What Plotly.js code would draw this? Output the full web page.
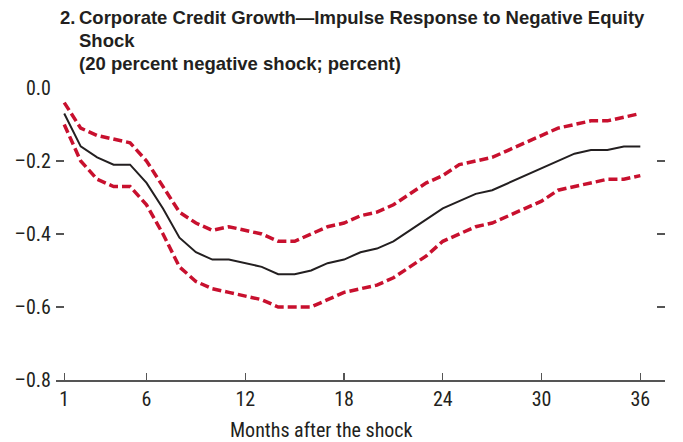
<!DOCTYPE html>
<html>
<head>
<meta charset="utf-8">
<script src="https://cdn.plot.ly/plotly-3.0.1.min.js"></script>
<style>
  html, body { margin: 0; padding: 0; background: #ffffff; }
  #chart { width: 683px; height: 442px; }
</style>
</head>
<body>
<div id="chart"></div>
<script>
// Months after the shock
const months = [1,2,3,4,5,6,7,8,9,10,11,12,13,14,15,16,17,18,19,20,21,22,23,24,25,26,27,28,29,30,31,32,33,34,35,36];
// Impulse response (percent)
const response = [-0.07,-0.16,-0.19,-0.21,-0.21,-0.26,-0.33,-0.41,-0.45,-0.47,-0.47,-0.48,-0.49,-0.51,-0.51,-0.50,-0.48,-0.47,-0.45,-0.44,-0.42,-0.39,-0.36,-0.33,-0.31,-0.29,-0.28,-0.26,-0.24,-0.22,-0.20,-0.18,-0.17,-0.17,-0.16,-0.16];
// Upper confidence band
const upperBand = [-0.04,-0.11,-0.13,-0.14,-0.15,-0.20,-0.27,-0.34,-0.37,-0.39,-0.38,-0.39,-0.40,-0.42,-0.42,-0.40,-0.38,-0.37,-0.35,-0.34,-0.32,-0.29,-0.26,-0.24,-0.21,-0.20,-0.19,-0.17,-0.15,-0.13,-0.11,-0.10,-0.09,-0.09,-0.08,-0.07];
// Lower confidence band
const lowerBand = [-0.10,-0.20,-0.25,-0.27,-0.27,-0.32,-0.40,-0.49,-0.53,-0.55,-0.56,-0.57,-0.58,-0.60,-0.60,-0.60,-0.58,-0.56,-0.55,-0.54,-0.52,-0.49,-0.46,-0.42,-0.40,-0.38,-0.37,-0.35,-0.33,-0.31,-0.28,-0.27,-0.26,-0.25,-0.25,-0.24];
// Tick labels
const xTickVals = [1,6,12,18,24,30,36];
const xTickText = ["1","6","12","18","24","30","36"];
const yTickVals = [0,-0.2,-0.4,-0.6,-0.8];
const yTickText = ["0.0","\u20130.2","\u20130.4","\u20130.6","\u20130.8"];
// Title lines
const titleNumber = "2.";
const titleLines = [
  "Corporate Credit Growth\u2014Impulse Response to Negative Equity",
  "Shock",
  "(20 percent negative shock; percent)"
];
const xTitle = "Months after the shock";

const FONT = '"Liberation Sans Narrow", "Arial Narrow", "Roboto Condensed", sans-serif';
const TFONT = '"Liberation Sans", Arial, sans-serif';
const RED = '#c8102e';
const INK = '#231f20';

const traces = [
  { x: months, y: upperBand, type: 'scatter', mode: 'lines',
    line: { color: RED, width: 3.5, dash: '9px,4px' }, hoverinfo: 'skip' },
  { x: months, y: lowerBand, type: 'scatter', mode: 'lines',
    line: { color: RED, width: 3.5, dash: '9px,4px' }, hoverinfo: 'skip' },
  { x: months, y: response, type: 'scatter', mode: 'lines',
    line: { color: INK, width: 2 } }
];

const titleAnn = [];
titleAnn.push({ xref: 'paper', yref: 'paper', x: (58 - 56) / 609, y: 1.285, xanchor: 'left', yanchor: 'top',
  showarrow: false, align: 'left', text: '<b>' + titleNumber + '</b>',
  font: { family: TFONT, size: 18.5, color: INK } });
titleLines.forEach(function (t, i) {
  titleAnn.push({ xref: 'paper', yref: 'paper', x: (77 - 56) / 609, y: 1.285 - i * 0.079,
    xanchor: 'left', yanchor: 'top', showarrow: false, align: 'left', text: '<b>' + t + '</b>',
    font: { family: TFONT, size: 18.5, color: INK } });
});
titleAnn.push({ xref: 'paper', yref: 'paper', x: (321 - 56) / 609, y: -0.124, xanchor: 'center', yanchor: 'top',
  showarrow: false, text: xTitle, font: { family: FONT, size: 20, color: INK } });

const layout = {
  width: 683, height: 442,
  margin: { l: 56, r: 18, t: 88, b: 62, pad: 0 },
  paper_bgcolor: '#ffffff', plot_bgcolor: '#ffffff',
  showlegend: false,
  font: { family: FONT, size: 20, color: INK },
  xaxis: {
    range: [0.5, 37.5],
    tickmode: 'array', tickvals: xTickVals, ticktext: xTickText,
    ticks: 'inside', ticklen: 7, tickwidth: 1.2, tickcolor: '#555555',
    showline: true, linecolor: '#555555', linewidth: 1.5,
    showgrid: false, zeroline: false,
    tickfont: { family: FONT, size: 20, color: INK }
  },
  yaxis: {
    range: [-0.8, 0],
    tickmode: 'array', tickvals: yTickVals, ticktext: yTickText,
    ticks: 'inside', ticklen: 8, tickwidth: 1.2, tickcolor: '#555555',
    mirror: 'ticks', showline: false,
    showgrid: false, zeroline: false,
    ticklabelstandoff: 4,
    tickfont: { family: FONT, size: 20, color: INK }
  },
  annotations: titleAnn
};

Plotly.newPlot('chart', traces, layout, { staticPlot: true, displayModeBar: false });
</script>
</body>
</html>
